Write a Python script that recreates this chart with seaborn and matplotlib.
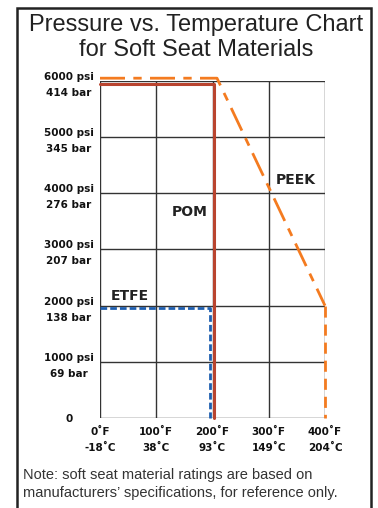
import matplotlib
matplotlib.use("Agg")
import matplotlib.pyplot as plt
import seaborn as sns
import pandas as pd
from matplotlib.patches import Rectangle

# ---- data ----
temp_ticks_f = [0, 100, 200, 300, 400]
temp_tick_labels = ["0˚F\n-18˚C", "100˚F\n38˚C", "200˚F\n93˚C", "300˚F\n149˚C", "400˚F\n204˚C"]
pressure_ticks = [0, 1000, 2000, 3000, 4000, 5000, 6000]
pressure_tick_labels = ["0", "1000 psi\n69 bar", "2000 psi\n138 bar", "3000 psi\n207 bar",
                        "4000 psi\n276 bar", "5000 psi\n345 bar", "6000 psi\n414 bar"]

pom_temp = [0, 202, 202]
pom_psi = [5950, 5950, 0]

peek_temp = [0, 208, 400, 400]
peek_psi = [6050, 6050, 2000, 0]

etfe_temp = [0, 196, 196]
etfe_psi = [1960, 1960, 0]

series_labels = ["POM", "PEEK", "ETFE"]
label_pos_temp = [160, 348, 53]
label_pos_psi = [3660, 4240, 2180]

# ---- figure ----
sns.set_theme(style="white")
plt.rcParams["font.family"] = ["DejaVu Sans"]

fig = plt.figure(figsize=(3.78, 5.08), dpi=100)
ax = fig.add_axes([100/378, 90/508, 225/378, 337/508])

grid_color = "#333333"
for t in temp_ticks_f:
    ax.axvline(t, color=grid_color, lw=1.0, zorder=1)
for p in pressure_ticks:
    ax.axhline(p, color=grid_color, lw=1.0, zorder=1)

pom_df = pd.DataFrame({"temp": pom_temp, "psi": pom_psi})
peek_df = pd.DataFrame({"temp": peek_temp, "psi": peek_psi})
etfe_df = pd.DataFrame({"temp": etfe_temp, "psi": etfe_psi})

sns.lineplot(data=etfe_df, x="temp", y="psi", sort=False, estimator=None, ax=ax,
             color="#1f5fb0", lw=2.0, linestyle=(0, (2.4, 1.1)), zorder=3)
ax.lines[-1].set_clip_on(False)
sns.lineplot(data=pom_df, x="temp", y="psi", sort=False, estimator=None, ax=ax,
             color="#b9442f", lw=2.2, zorder=4)
ax.lines[-1].set_clip_on(False)
# PEEK: dash-dot for the top and slope, dashed for the final drop
sns.lineplot(data=peek_df.iloc[:3], x="temp", y="psi", sort=False, estimator=None, ax=ax,
             color="#f47b20", lw=2.0, linestyle=(0, (9, 3, 3, 3)), zorder=3)
ax.lines[-1].set_clip_on(False)
sns.lineplot(data=peek_df.iloc[2:], x="temp", y="psi", sort=False, estimator=None, ax=ax,
             color="#f47b20", lw=2.0, linestyle=(0, (4, 2.5)), zorder=3)
ax.lines[-1].set_clip_on(False)

for name, tx, py in zip(series_labels, label_pos_temp, label_pos_psi):
    ax.text(tx, py, name, fontsize=10, fontweight="bold", color="#222222",
            ha="center", va="center", zorder=5)

ax.set_xlim(0, 400)
ax.set_ylim(0, 6000)
ax.set_xlabel("")
ax.set_ylabel("")
for s in ax.spines.values():
    s.set_visible(False)

ax.set_xticks(temp_ticks_f)
ax.set_xticklabels(temp_tick_labels, fontsize=7.5, fontweight="bold", color="#111111",
                   linespacing=1.75)
ax.set_yticks(pressure_ticks)
ax.set_yticklabels(pressure_tick_labels, fontsize=7.5, fontweight="bold", color="#111111",
                   linespacing=1.75)
ax.tick_params(axis="x", length=0, pad=6.5)
ax.tick_params(axis="y", length=0, pad=22.5)
for lab in ax.get_yticklabels():
    lab.set_horizontalalignment("center")
    lab.set_multialignment("center")

# title
fig.text(196/378, 1 - 37.5/508, "Pressure vs. Temperature Chart\nfor Soft Seat Materials",
         ha="center", va="center", fontsize=17, family=["Liberation Sans"],
         color="#222222", linespacing=1.2)

# note
fig.text(23/378, 1 - 484/508,
         "Note: soft seat material ratings are based on\nmanufacturers\u2019 specifications, for reference only.",
         ha="left", va="center", fontsize=10.5, family=["Liberation Sans"],
         color="#333333", linespacing=1.35)

# outer frame
fig.patches.append(Rectangle((17/378, -0.01), (371-17)/378, 1 - 7.5/508 + 0.01,
                             transform=fig.transFigure, fill=False,
                             edgecolor="#222222", lw=1.8))

fig.savefig("out.png", dpi=100)
